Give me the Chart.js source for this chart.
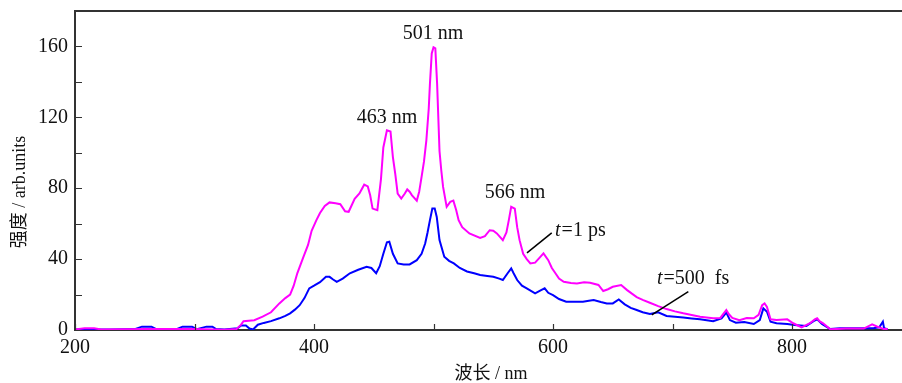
<!DOCTYPE html>
<html>
<head>
<meta charset="utf-8">
<script src="https://cdn.jsdelivr.net/npm/chart.js@4.4.0/dist/chart.umd.min.js"></script>
<style>
  html, body { margin: 0; padding: 0; background: #fff; }
  #wrap { width: 902px; height: 383px; }
</style>
</head>
<body>
<div id="wrap"><canvas id="spectrumChart"></canvas></div>
<script>
// t = 1 ps (magenta)
const wl1ps = [200, 208, 216, 222, 260, 300, 325, 335, 339, 341, 350, 357, 364, 371, 376, 380, 383, 386, 391, 395, 398, 402, 405, 409, 413, 418, 422, 426, 429, 434, 438, 442, 445, 447, 449, 453, 456, 458, 461, 464, 466, 468, 470, 473, 476, 478, 480, 482, 486, 488, 490, 492, 494, 496, 497, 498.5, 500, 501.5, 503, 505, 506.5, 508, 511, 514, 516.6, 519, 521, 524, 530, 539, 543, 547, 550, 553, 558, 561, 563, 565, 568, 570, 572, 575, 578, 581, 585, 589, 592, 596, 599, 602, 605, 609, 615, 620, 626, 631, 638, 642, 646, 650, 657, 662, 666, 670, 675, 681, 688, 695, 702, 709, 716, 723, 734, 740, 743, 745, 747, 750, 756, 762, 768, 772, 775, 777, 779, 782, 787, 796, 801, 808, 815, 819, 821, 823, 826, 832, 845, 860, 867, 871, 877, 880];
const int1ps = [0.3, 1, 1, 0.3, 0.5, 0.5, 0.2, 0.5, 3, 5, 5.5, 7.5, 10, 15, 18, 20, 25, 32, 41, 48, 56, 62, 66, 70, 72, 71.5, 71, 67, 66.7, 74, 77, 82, 81, 76, 68.5, 67.6, 85, 103, 112.7, 112, 97.6, 88, 77, 74.2, 77, 79.3, 78, 76, 73, 78, 86.4, 95, 107, 125, 139, 156, 159.6, 159, 139, 101, 90, 80.7, 69.5, 72.3, 73, 67.6, 62, 58, 54.5, 52, 53, 56.3, 56, 54.5, 50.7, 55, 62, 69.5, 68.5, 58, 50.7, 43, 40, 37.6, 38, 41, 43.2, 39.4, 35, 32, 29, 27.2, 26.5, 26.3, 27, 26.7, 25.4, 22, 23, 24.4, 25.4, 22.5, 20.5, 18.6, 17, 15.4, 13.5, 11.8, 10.5, 9.4, 8.5, 7.5, 6.6, 6.8, 9.5, 11.3, 9, 6.8, 5.5, 6.8, 6.6, 8.5, 14, 15, 13, 6, 5.6, 6, 3.8, 1.5, 3.8, 6, 6.6, 5, 3.8, 0.4, 0.8, 0.8, 3.2, 2, 0.5, 0.5];

// t = 500 fs (blue)
const wl500fs = [200, 230, 250, 256, 264, 268, 285, 290, 298, 302, 310, 315, 318, 325, 336, 339, 343, 346, 349, 353, 358, 364, 371, 376, 380, 384, 388, 392, 396, 400, 405, 410, 413, 416, 419, 424, 430, 437, 444, 448, 452, 455, 458, 461, 463, 466, 470, 475, 480, 486, 490, 493, 495, 497, 499, 501, 502.7, 505, 509, 513, 517, 522, 528, 534, 539, 545, 550, 555, 558, 562, 565, 567, 570, 574, 578, 585, 590, 593, 596, 600, 605, 611, 618, 625, 630, 634, 640, 645, 650, 655, 660, 665, 670, 675, 681, 688, 695, 702, 709, 716, 723, 734, 741, 745, 748, 753, 760, 768, 773, 776, 779, 782, 787, 796, 802, 812, 818, 821, 825, 832, 840, 850, 860, 868, 873, 876, 877, 880];
const int500fs = [0.3, 0.3, 0.5, 1.9, 1.9, 0.5, 0.5, 1.9, 1.9, 0.5, 1.9, 1.9, 0.5, 0.3, 1, 2.5, 2.5, 0.8, 0.3, 3, 4, 5, 6.6, 8, 9.4, 11.5, 14, 18, 23.5, 25, 27, 30, 30, 28.5, 27.2, 29, 32, 34, 35.7, 35, 32, 36, 43, 49.5, 49.8, 43, 37.6, 37, 37, 39.4, 43, 48.8, 55, 62, 68.5, 68.5, 63.8, 50.7, 41.3, 39, 37.6, 35, 33, 32, 31, 30.5, 30, 29, 28.2, 32, 34.8, 32, 28.2, 25, 23.5, 20.7, 22.5, 23.5, 21, 19.7, 17.5, 16, 16, 16, 16.5, 16.9, 15.8, 15, 15, 17.2, 14.5, 12.5, 11.3, 10, 9, 10, 7.9, 7.5, 7.1, 6.5, 6, 5, 6.6, 9.8, 5.6, 4.1, 4.5, 3.4, 5.6, 12.2, 10.3, 4.7, 3.8, 3.4, 2.8, 2.3, 5, 6, 3.4, 0.5, 1, 1, 1, 1, 1.5, 4.7, 1, 0.5];

const xMajorTicks = [200, 400, 600, 800];
const xMinorTicks = [300, 500, 700];
const yMajorTicks = [0, 40, 80, 120, 160];
const yMinorTicks = [20, 60, 100, 140];

const serif = "'Liberation Serif', 'Noto Sans CJK SC', serif";
const axisColor = '#333';

const toPoints = (xs, ys) => xs.map((x, i) => ({ x: x, y: ys[i] }));

// labels and leader lines, placed in data units
const notes = [
    { x: 499.6, y: 167.3, parts: [['501 nm', false]] },
    { x: 461, y: 120, parts: [['463 nm', false]] },
    { x: 568.2, y: 77.2, parts: [['566 nm', false]] },
    { x: 601.7, y: 55.8, align: 'left', parts: [['t', true], ['=1 ps', false]] },
    { x: 687, y: 28.7, align: 'left', parts: [['t', true], ['=500  fs', false]] }
];
const leaders = [
    [578.2, 43.5, 598.9, 54.8],
    [682.6, 8.5, 713.2, 21.6]
];

const decorations = {
    id: 'decorations',
    afterDraw(chart) {
        const ctx = chart.ctx;
        const xs = chart.scales.x, ys = chart.scales.y;
        const area = chart.chartArea;
        ctx.save();

        // top frame line
        ctx.strokeStyle = axisColor;
        ctx.lineWidth = 2;
        ctx.beginPath();
        ctx.moveTo(area.left - 1, area.top);
        ctx.lineTo(area.right, area.top);
        ctx.stroke();

        // inward ticks
        ctx.lineWidth = 1.2;
        ctx.beginPath();
        xMajorTicks.concat(xMinorTicks).forEach(v => {
            const px = Math.round(xs.getPixelForValue(v)) + 0.5;
            ctx.moveTo(px, area.bottom);
            ctx.lineTo(px, area.bottom - 6);
        });
        yMajorTicks.concat(yMinorTicks).forEach(v => {
            if (v === 0) return;
            const py = Math.round(ys.getPixelForValue(v)) + 0.5;
            ctx.moveTo(area.left, py);
            ctx.lineTo(area.left + 7, py);
        });
        ctx.stroke();

        // leader lines
        ctx.strokeStyle = '#000';
        ctx.lineWidth = 1.5;
        leaders.forEach(l => {
            ctx.beginPath();
            ctx.moveTo(xs.getPixelForValue(l[0]), ys.getPixelForValue(l[1]));
            ctx.lineTo(xs.getPixelForValue(l[2]), ys.getPixelForValue(l[3]));
            ctx.stroke();
        });

        // text labels
        ctx.fillStyle = '#111';
        ctx.textBaseline = 'middle';
        notes.forEach(n => {
            const fonts = n.parts.map(p => (p[1] ? 'italic ' : '') + '20px ' + serif);
            let width = 0;
            n.parts.forEach((p, i) => { ctx.font = fonts[i]; width += ctx.measureText(p[0]).width; });
            let px = xs.getPixelForValue(n.x);
            if (n.align !== 'left') px -= width / 2;
            const py = ys.getPixelForValue(n.y);
            n.parts.forEach((p, i) => {
                ctx.font = fonts[i];
                ctx.textAlign = 'left';
                ctx.fillText(p[0], px, py);
                px += ctx.measureText(p[0]).width + (p[1] ? 1 : 0);
            });
        });

        // axis titles
        ctx.font = '18px ' + serif;
        ctx.textAlign = 'center';
        ctx.fillText('波长 / nm', 491, 374);
        ctx.translate(20, 192);
        ctx.rotate(-Math.PI / 2);
        ctx.fillText('强度 / arb.units', 0, 0);
        ctx.restore();
    }
};

const ctx = document.getElementById('spectrumChart').getContext('2d');
new Chart(ctx, {
    type: 'line',
    data: {
        datasets: [
            {
                label: 't=1 ps',
                data: toPoints(wl1ps, int1ps),
                borderColor: '#ff00ff',
                borderWidth: 2,
                pointRadius: 0,
                tension: 0
            },
            {
                label: 't=500 fs',
                data: toPoints(wl500fs, int500fs),
                borderColor: '#0000ff',
                borderWidth: 2,
                pointRadius: 0,
                tension: 0
            }
        ]
    },
    options: {
        responsive: true,
        maintainAspectRatio: false,
        animation: false,
        layout: { padding: { top: 11, right: 0, bottom: 0, left: 0 } },
        plugins: {
            legend: { display: false },
            tooltip: { enabled: false }
        },
        scales: {
            x: {
                type: 'linear',
                min: 200,
                max: 892,
                afterBuildTicks: s => { s.ticks = xMajorTicks.map(v => ({ value: v })); },
                afterFit: s => { s.height = 53; s.paddingRight = 0; },
                grid: { display: false, drawTicks: false },
                border: { display: true, color: axisColor, width: 2 },
                ticks: {
                    padding: 6,
                    color: '#111',
                    font: { family: serif, size: 20 },
                    maxRotation: 0
                }
            },
            y: {
                min: 0,
                max: 180,
                afterBuildTicks: s => { s.ticks = yMajorTicks.map(v => ({ value: v })); },
                afterFit: s => { s.width = 75; s.paddingTop = 0; s.paddingBottom = 0; },
                grid: { display: false, drawTicks: false },
                border: { display: true, color: axisColor, width: 2 },
                ticks: {
                    padding: 7,
                    color: '#111',
                    font: { family: serif, size: 20 }
                }
            }
        }
    },
    plugins: [decorations]
});
</script>
</body>
</html>
